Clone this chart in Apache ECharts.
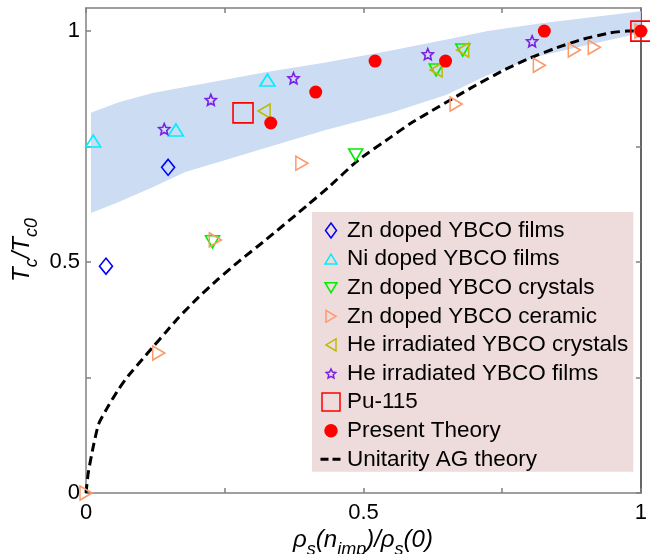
<!DOCTYPE html>
<html><head><meta charset="utf-8">
<script src="https://cdn.jsdelivr.net/npm/echarts@6/dist/echarts.min.js"></script>
<style>html,body{margin:0;padding:0;background:#fff}#c{width:650px;height:554px}</style>
</head><body><div id="c"></div>
<script>
// ---------- data ----------
const xTicks = [0, 0.25, 0.5, 0.75, 1];
const xTickLabels = [0, 0.5, 1];
const yTicks = [0, 0.25, 0.5, 0.75, 1];
const yTickLabels = [0, 0.5, 1];

const bandX     = [0.009, 0.059, 0.12, 0.179, 0.238, 0.323, 0.432, 0.55, 0.65, 0.724, 0.814, 0.903, 1.0];
const bandLower = [0.606, 0.63, 0.662, 0.695, 0.716, 0.747, 0.786, 0.823, 0.862, 0.905, 0.945, 0.970, 0.996];
const bandUpper = [0.823, 0.846, 0.866, 0.879, 0.892, 0.911, 0.932, 0.958, 0.982, 1.0, 1.016, 1.029, 1.043];

const agX = [0, 0.004, 0.013, 0.023, 0.041, 0.059, 0.077, 0.102, 0.122, 0.143, 0.167, 0.203, 0.238, 0.274, 0.324, 0.401, 0.437, 0.491, 0.55, 0.586, 0.634, 0.694, 0.754, 0.801, 0.844, 0.891, 0.944, 0.975, 1.0];
const agY = [0, 0.043, 0.1, 0.150, 0.190, 0.225, 0.255, 0.290, 0.318, 0.347, 0.380, 0.424, 0.463, 0.500, 0.548, 0.625, 0.662, 0.721, 0.771, 0.801, 0.835, 0.877, 0.916, 0.942, 0.962, 0.981, 0.996, 1.0, 1.0];

const znFilms    = [[0.036, 0.491], [0.148, 0.705]];
const niFilms    = [[0.013, 0.762], [0.162, 0.786], [0.327, 0.894]];
const znCrystals = [[0.228, 0.544], [0.486, 0.732], [0.631, 0.916], [0.679, 0.959]];
const znCeramic  = [[0, 0], [0.131, 0.303], [0.233, 0.548], [0.389, 0.714], [0.667, 0.842], [0.817, 0.926], [0.88, 0.959], [0.916, 0.965], [1, 1]];
const heCrystals = [[0.321, 0.827], [0.631, 0.916], [0.679, 0.959]];
const heFilms    = [[0.141, 0.788], [0.225, 0.851], [0.374, 0.898], [0.616, 0.950], [0.804, 0.978]];
const pu115      = [[0.283, 0.823], [1, 1]];
const theory     = [[0.333, 0.801], [0.414, 0.868], [0.521, 0.935], [0.648, 0.935], [0.826, 1.0], [1, 1]];

const names = ['Zn doped YBCO films', 'Ni doped YBCO films', 'Zn doped YBCO crystals', 'Zn doped YBCO ceramic',
  'He irradiated YBCO crystals', 'He irradiated YBCO films', 'Pu-115', 'Present Theory', 'Unitarity AG theory'];

// ---------- styles ----------
const FONT = "'Liberation Sans', Arial, sans-serif";
const AX = '#808080';
function starPath(cx, cy, R, r) {
  let d = '';
  for (let i = 0; i < 10; i++) {
    const a = -Math.PI / 2 + i * Math.PI / 5, rad = i % 2 ? r : R;
    d += (i ? 'L' : 'M') + (cx + rad * Math.cos(a)).toFixed(2) + ' ' + (cy + rad * Math.sin(a)).toFixed(2) + ' ';
  }
  return d + 'Z';
}
const P = {
  diamond: 'path://M6 0L12 8L6 16L0 8Z',
  up: 'path://M6 0L12 10L0 10Z',
  down: 'path://M0 0L12 0L6 10Z',
  right: 'path://M0 0L10 6L0 12Z',
  left: 'path://M10 0L0 6L10 12Z',
  star: 'path://' + starPath(10, 10, 10, 4.6)
};
const FR = 'M0 0M20 20';
const L = {
  diamond: 'path://' + FR + 'M10 2.5L15.5 10L10 17.5L4.5 10Z',
  up: 'path://' + FR + 'M10 5L16 15L4 15Z',
  down: 'path://' + FR + 'M4 5L16 5L10 15Z',
  right: 'path://' + FR + 'M5 4L15 10L5 16Z',
  left: 'path://' + FR + 'M15 4L5 10L15 16Z',
  star: 'path://' + FR + starPath(10, 10.5, 5, 2.4),
  square: 'path://' + FR + 'M1 1L19 1L19 19L1 19Z',
  circle: 'path://' + FR + 'M4 10A6 6 0 1 0 16 10A6 6 0 1 0 4 10Z',
  dash: 'path://M0 0M22 20M0.5 8.5H8.5V11.5H0.5ZM12.5 8.5H20.5V11.5H12.5Z'
};
const T = 'rgba(0,0,0,0)';
function hollow(name, data, sym, size, color, z) {
  return { type: 'scatter', name, data, symbol: sym, symbolSize: size, symbolKeepAspect: false, z: z || 3,
    itemStyle: { color: T, borderColor: color, borderWidth: 1.6, opacity: 1 } };
}
const richM = { fontSize: 24, fontStyle: 'italic', fontFamily: FONT, lineHeight: 24, verticalAlign: 'top', fill: '#000' };
const richS = { fontSize: 18, fontStyle: 'italic', fontFamily: FONT, lineHeight: 31, verticalAlign: 'bottom', fill: '#000' };

const chart = echarts.init(document.getElementById('c'), null, { renderer: 'canvas' });
const axisCommon = {
  type: 'value', min: 0, max: 1,
  axisLine: { show: true, onZero: false, lineStyle: { color: AX, width: 1.5 } },
  axisTick: { show: true, inside: true, length: 5, lineStyle: { color: AX, width: 1.5 } },
  splitLine: { show: false }
};
chart.setOption({
  animation: false,
  backgroundColor: '#fff',
  grid: { left: 86, right: 5, top: 8, bottom: 61, containLabel: false },
  xAxis: [
    Object.assign({}, axisCommon, { position: 'bottom',
      axisTick: Object.assign({}, axisCommon.axisTick, { customValues: xTicks }),
      axisLabel: { customValues: xTickLabels, margin: 9, color: '#000', fontSize: 22, fontFamily: FONT, formatter: v => String(v) } }),
    Object.assign({}, axisCommon, { position: 'top',
      axisTick: Object.assign({}, axisCommon.axisTick, { customValues: xTicks }),
      axisLabel: { show: false } })
  ],
  yAxis: [
    Object.assign({}, axisCommon, { max: 1.05, position: 'left',
      axisTick: Object.assign({}, axisCommon.axisTick, { customValues: yTicks }),
      axisLabel: { customValues: yTickLabels, margin: 6, color: '#000', fontSize: 22, fontFamily: FONT, formatter: v => String(v) } }),
    Object.assign({}, axisCommon, { max: 1.05, position: 'right',
      axisLine: { show: true, onZero: false, lineStyle: { color: '#333', width: 1.5 } },
      axisTick: Object.assign({}, axisCommon.axisTick, { customValues: yTicks }),
      axisLabel: { show: false } })
  ],
  legend: {
    orient: 'vertical', left: 312, top: 212,
    padding: [7, 5, 1, 8],
    backgroundColor: '#eedbdc',
    itemWidth: 22, itemHeight: 20, itemGap: 5.6,
    symbolRotate: 0,
    itemStyle: { borderWidth: 1.5 },
    textStyle: { fontSize: 22.5, fontFamily: FONT, color: '#000', lineHeight: 20 },
    data: [
      { name: names[0], icon: L.diamond },
      { name: names[1], icon: L.up },
      { name: names[2], icon: L.down },
      { name: names[3], icon: L.right },
      { name: names[4], icon: L.left },
      { name: names[5], icon: L.star },
      { name: names[6], icon: L.square },
      { name: names[7], icon: L.circle },
      { name: names[8], icon: L.dash }
    ]
  },
  graphic: [
    { type: 'text', x: 363, y: 528, z: 10,
      style: { text: '{m|\u03C1}{s|s}{m|(n}{s|imp}{m|)/\u03C1}{s|s}{m|(0)}', align: 'center', verticalAlign: 'top',
        rich: { m: richM, s: richS } } },
    { type: 'text', x: 10, y: 250, rotation: Math.PI / 2, z: 10,
      style: { text: '{m|T}{s|c}{m|/T}{s|c0}', align: 'center', verticalAlign: 'top',
        rich: { m: richM, s: richS } } }
  ],
  series: [
    { type: 'custom', name: 'band', silent: true, z: 1, clip: true,
      data: bandX.map((x, i) => [x, bandLower[i], bandUpper[i]]),
      renderItem: function (params, api) {
        if (params.dataIndex !== 0) return null;
        const pts = [];
        for (let i = 0; i < bandX.length; i++) pts.push(api.coord([bandX[i], bandUpper[i]]));
        for (let i = bandX.length - 1; i >= 0; i--) pts.push(api.coord([bandX[i], bandLower[i]]));
        return { type: 'polygon', shape: { points: pts }, style: { fill: '#cbdcf3', stroke: null } };
      } },
    { type: 'line', name: names[8], data: agX.map((x, i) => [x, agY[i]]), symbol: 'none', showSymbol: false, smooth: 0.2, z: 2,
      itemStyle: { color: '#000' }, lineStyle: { color: '#000', width: 3, type: [9, 5] } },
    hollow(names[0], znFilms, P.diamond, [13, 16], '#0000ff'),
    hollow(names[1], niFilms, P.up, [15, 12], '#00eeff'),
    hollow(names[2], znCrystals, P.down, [14, 12], '#00ee00'),
    hollow(names[3], znCeramic, P.right, [12, 14], '#fb9a6b'),
    hollow(names[4], heCrystals, P.left, [12, 14], '#bcbc00'),
    hollow(names[5], heFilms, P.star, [11, 11], '#7a1fe6'),
    { type: 'scatter', name: names[7], data: theory, symbol: 'circle', symbolSize: 13, z: 3,
      itemStyle: { color: '#ff0000', borderColor: '#ff0000', borderWidth: 0, opacity: 1 } },
    hollow(names[6], pu115, 'rect', [20, 20], '#ff0000', 4)
  ]
});
</script></body></html>
